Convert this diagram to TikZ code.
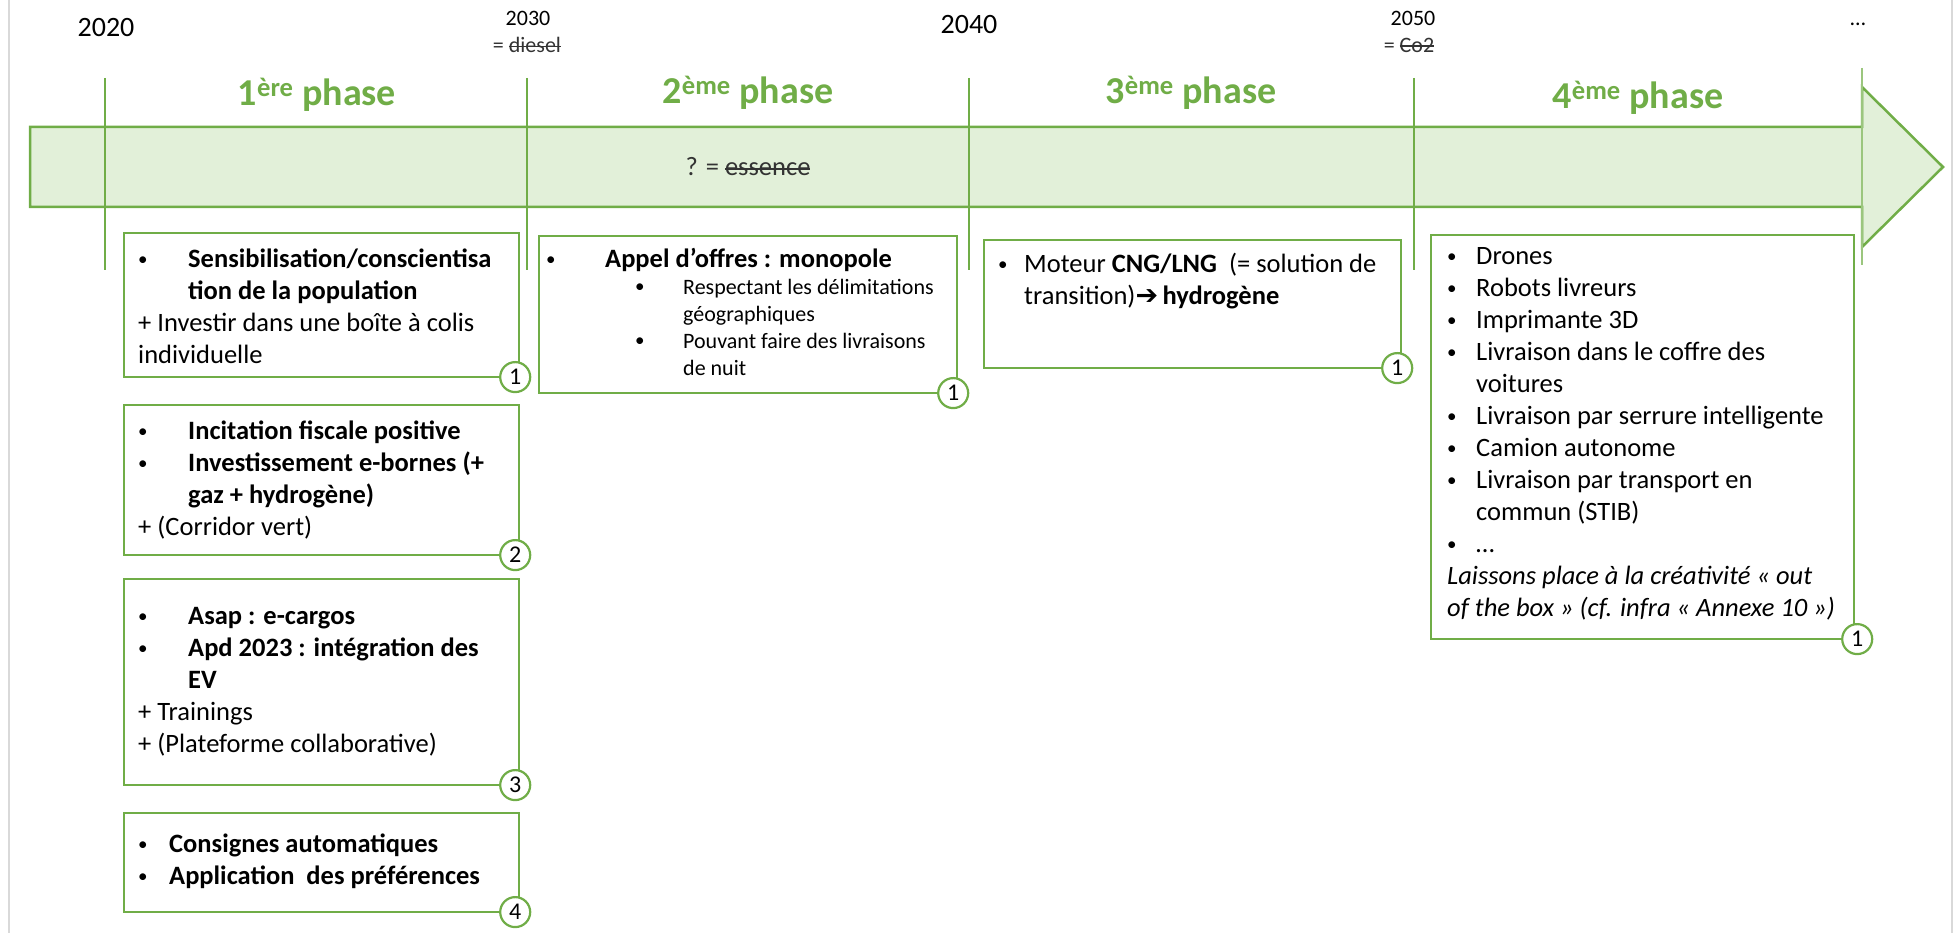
\documentclass[tikz,border=0pt]{standalone}
\usepackage{fontspec}
\setmainfont{Carlito}
\newfontfamily\symfont{DejaVu Sans}
\usetikzlibrary{positioning}
\definecolor{grn}{HTML}{70AD47}
\definecolor{grnfill}{HTML}{E2F0D9}
\definecolor{framegray}{HTML}{D9D9D9}
\tikzset{
  itembox/.style  = {rectangle, draw=grn, line width=2.2pt, fill=white,
                     anchor=north west, inner sep=0pt},
  itemtext/.style = {align=left, inner sep=0pt,
                     font=\fontsize{26.5}{32}\selectfont},
  numbadge/.style = {circle, draw=grn, line width=2.2pt, fill=white,
                     minimum size=30pt, inner sep=0pt,
                     font=\fontsize{24}{24}\selectfont},
  yearlbl/.style  = {inner sep=0pt, font=\fontsize{28}{28}\selectfont},
  smallyr/.style  = {inner sep=0pt, font=\fontsize{22}{22}\selectfont},
  sublbl/.style   = {inner sep=0pt, font=\fontsize{22}{22}\selectfont, black!80},
  phasettl/.style = {inner sep=0pt, text=grn, font=\fontsize{38}{38}\selectfont\bfseries},
  timeline/.style = {draw=grn, line width=2.5pt, fill=grnfill, line join=miter},
  tick/.style     = {grn, line width=1.2pt},
}
\newcommand{\bul}[1]{\makebox[#1][l]{\raisebox{2pt}{\fontsize{19}{19}\selectfont\textbullet}}}
\newcommand{\strk}[1]{\leavevmode\setbox0\hbox{#1}\rlap{\rule[0.24em]{\wd0}{0.06em}}\box0}

\begin{document}
\begin{tikzpicture}[x=1pt, y=-1pt]
  \useasboundingbox (0,0) rectangle (1955,933);
  \draw[framegray, line width=2.5pt] (9,0) -- (9,933);
  \draw[framegray, line width=2.5pt] (1952,0) -- (1952,933);

  % timeline arrow
  \draw[timeline] (30,127) -- (1862,127) -- (1862,87) -- (1943,167)
        -- (1862,247) -- (1862,207) -- (30,207) -- cycle;
  \node[inner sep=0pt, font=\fontsize{26.5}{32}\selectfont, black!80] (fuel) at (748,167)
       {? = \strk{essence}};

  % year ticks
  \foreach \x in {105,527,969,1414} {
    \draw[tick] (\x,78) -- (\x,270);
  }
  \draw[tick, grn!70] (1862,68) -- (1862,265);

  \node[yearlbl] (y2020) at (106,28) {2020};
  \node[smallyr] (y2030) at (528,18) {2030};
  \node[sublbl]  (diesel) at (527,45) {= \strk{diesel}};
  \node[yearlbl] (y2040) at (969,25) {2040};
  \node[smallyr] (y2050) at (1413,18) {2050};
  \node[sublbl]  (co2) at (1409,45) {= \strk{Co2}};
  \node[smallyr] (ydots) at (1858,24) {\ldots};

  \node[phasettl] (ph1) at (317,95) {1\textsuperscript{ère} phase};
  \node[phasettl] (ph2) at (748,93) {2\textsuperscript{ème} phase};
  \node[phasettl] (ph3) at (1191,93) {3\textsuperscript{ème} phase};
  \node[phasettl] (ph4) at (1638,98) {4\textsuperscript{ème} phase};

  % phase 1
  \node[itembox, minimum width=395pt, minimum height=144pt] (p1a) at (123,232) {};
  \node[itembox, minimum width=395pt, minimum height=150pt, below=25.8pt of p1a] (p1b) {};
  \node[itembox, minimum width=395pt, minimum height=206pt, below=21.8pt of p1b] (p1c) {};
  \node[itembox, minimum width=395pt, minimum height=99pt, below=25.8pt of p1c] (p1d) {};

  \node[itemtext, below right=12.5pt and 15pt of p1a.north west] (t1a)
       {\strut\bul{50pt}\textbf{Sensibilisation/conscientisa}\\
        \hspace*{50pt}\textbf{tion de la population}\\
        + Investir dans une boîte à colis\\
        individuelle};
  \node[itemtext, below right=12.5pt and 15pt of p1b.north west] (t1b)
       {\strut\bul{50pt}\textbf{Incitation fiscale positive}\\
        \bul{50pt}\textbf{Investissement e-bornes (+}\\
        \hspace*{50pt}\textbf{gaz + hydrogène)}\\
        + (Corridor vert)};
  \node[itemtext, below right=23.5pt and 15pt of p1c.north west] (t1c)
       {\strut\bul{50pt}\textbf{Asap : e-cargos}\\
        \bul{50pt}\textbf{Apd 2023 : intégration des}\\
        \hspace*{50pt}\textbf{EV}\\
        + Trainings\\
        + (Plateforme collaborative)};
  \node[itemtext, below right=17.5pt and 15pt of p1d.north west] (t1d)
       {\strut\bul{31pt}\textbf{Consignes automatiques}\\
        \bul{31pt}\textbf{Application\ \ des préférences}};

  % phase 2
  \node[itembox, minimum width=418pt, minimum height=157pt] (p2) at (538,235) {};
  \node[itemtext, font=\fontsize{22}{27}\selectfont,
        below right=9.5pt and 8pt of p2.north west] (t2)
       {{\fontsize{26.5}{32}\selectfont\strut\bul{59pt}\textbf{Appel d’offres : monopole}}\\
        \hspace*{89pt}\bul{48pt}Respectant les délimitations\\
        \hspace*{137pt}géographiques\\
        \hspace*{89pt}\bul{48pt}Pouvant faire des livraisons\\
        \hspace*{137pt}de nuit};

  % phase 3
  \node[itembox, minimum width=417pt, minimum height=128pt] (p3) at (983,239) {};
  \node[itemtext, below right=10.5pt and 15pt of p3.north west] (t3)
       {\strut\bul{26pt}Moteur \textbf{CNG/LNG}\ \ (= solution de\\
        \hspace*{26pt}transition){\symfont\bfseries\fontsize{27}{32}\selectfont ➔}\,\textbf{hydrogène}};

  % phase 4
  \node[itembox, minimum width=423pt, minimum height=404pt] (p4) at (1430,234) {};
  \node[itemtext, below right=7.5pt and 17pt of p4.north west] (t4)
       {\strut\bul{29pt}Drones\\
        \bul{29pt}Robots livreurs\\
        \bul{29pt}Imprimante 3D\\
        \bul{29pt}Livraison dans le coffre des\\
        \hspace*{29pt}voitures\\
        \bul{29pt}Livraison par serrure intelligente\\
        \bul{29pt}Camion autonome\\
        \bul{29pt}Livraison par transport en\\
        \hspace*{29pt}commun (STIB)\\
        \bul{29pt}\ldots\\
        \textit{Laissons place à la créativité « out}\\
        \textit{of the box » (cf. infra « Annexe 10 »)}};

  % number badges
  \node[numbadge] (n1a) at ([xshift=-5pt, yshift=1.1pt]p1a.south east) {1};
  \node[numbadge] (n1b) at ([xshift=-5pt, yshift=1.1pt]p1b.south east) {2};
  \node[numbadge] (n1c) at ([xshift=-5pt, yshift=1.1pt]p1c.south east) {3};
  \node[numbadge] (n1d) at ([xshift=-5pt, yshift=1.1pt]p1d.south east) {4};
  \node[numbadge] (n2)  at ([xshift=-5pt, yshift=1.1pt]p2.south east)  {1};
  \node[numbadge] (n3)  at ([xshift=-5pt, yshift=1.1pt]p3.south east)  {1};
  \node[numbadge] (n4)  at ([xshift=2pt, yshift=1.1pt]p4.south east)   {1};
\end{tikzpicture}
\end{document}
